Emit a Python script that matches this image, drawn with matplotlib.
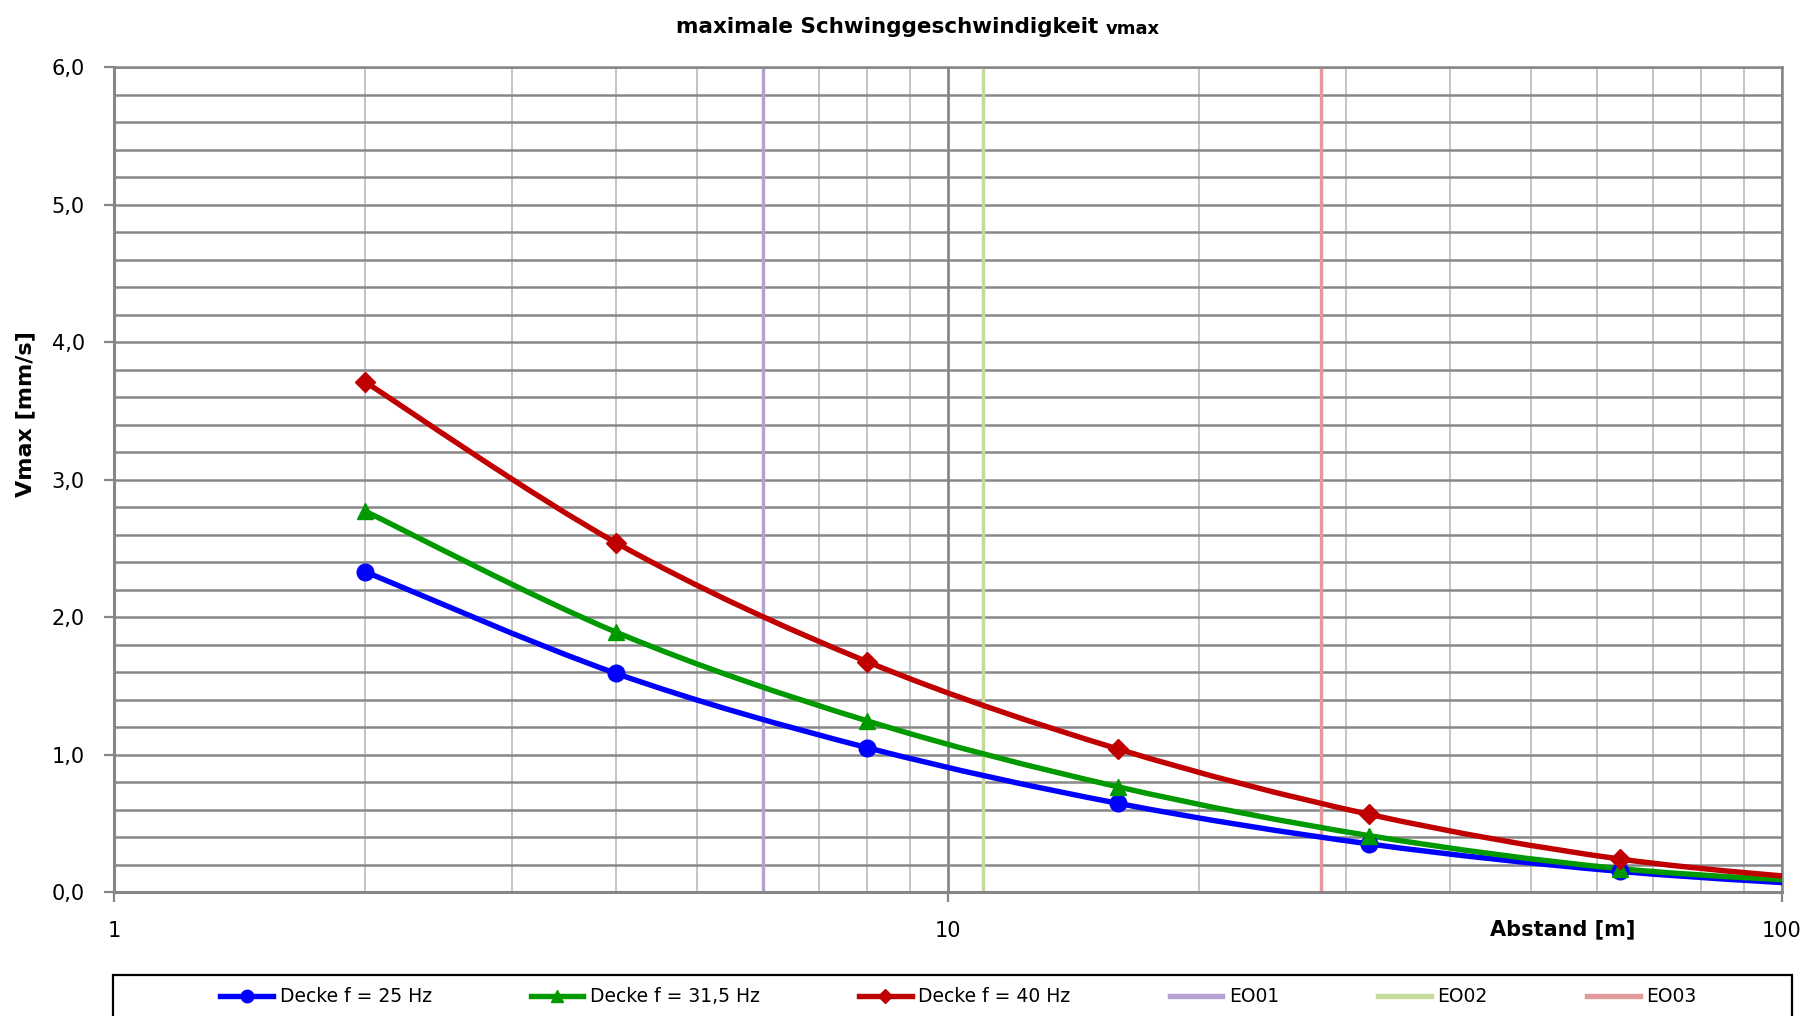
import numpy as np
import matplotlib
matplotlib.use('Agg')
import matplotlib.pyplot as plt
from matplotlib.path import Path
from matplotlib.patches import PathPatch, Rectangle
from matplotlib.lines import Line2D
from matplotlib.ticker import MultipleLocator, FixedLocator, NullFormatter

# data
distances = [2, 4, 8, 16, 32, 64, 128]
v_25 = [2.33, 1.59, 1.05, 0.645, 0.35, 0.15, 0.03]
v_315 = [2.77, 1.89, 1.245, 0.765, 0.41, 0.17, 0.055]
v_40 = [3.71, 2.54, 1.675, 1.04, 0.565, 0.24, 0.06]
series_labels = ['Decke f = 25 Hz', 'Decke f = 31,5 Hz', 'Decke f = 40 Hz']
eo_labels = ['EO01', 'EO02', 'EO03']
eo_positions = [6.0, 11.0, 28.0]
y_ticks = [0, 1, 2, 3, 4, 5, 6]
x_ticks = [1, 10, 100]

line_colors = ['#0000ff', '#009900', '#c00000']
markers = ['o', '^', 'D']
marker_sizes = [12, 12, 10]
eo_colors = ['#b3a2d2', '#c6da9c', '#e39a9c']

plt.rcParams['font.family'] = ['DejaVu Sans']


def smooth_path(xs, ys):
    # Excel-like smoothed line: cubic bezier in (log x, y) space
    u = np.log10(np.asarray(xs, float))
    v = np.asarray(ys, float)
    n = len(u)
    verts = [(xs[0], ys[0])]
    codes = [Path.MOVETO]
    for i in range(n - 1):
        u0, v0 = (u[i - 1], v[i - 1]) if i > 0 else (u[i], v[i])
        u3, v3 = (u[i + 2], v[i + 2]) if i + 2 < n else (u[i + 1], v[i + 1])
        c1 = (u[i] + (u[i + 1] - u0) / 6, v[i] + (v[i + 1] - v0) / 6)
        c2 = (u[i + 1] - (u3 - u[i]) / 6, v[i + 1] - (v3 - v[i]) / 6)
        verts += [(10 ** c1[0], c1[1]), (10 ** c2[0], c2[1]), (10 ** u[i + 1], v[i + 1])]
        codes += [Path.CURVE4] * 3
    return Path(verts, codes)


fig = plt.figure(figsize=(18.05, 10.16), dpi=100)
ax = fig.add_axes([0.0632, 0.122, 0.924, 0.812])

ax.set_xscale('log')
ax.set_xlim(1, 100)
ax.set_ylim(0, 6)

# grid
ax.yaxis.set_major_locator(FixedLocator(y_ticks))
ax.yaxis.set_minor_locator(MultipleLocator(0.2))
ax.xaxis.set_major_locator(FixedLocator(x_ticks))
ax.xaxis.set_minor_locator(FixedLocator([m * d for d in (1, 10) for m in range(2, 10)]))
ax.xaxis.set_minor_formatter(NullFormatter())
ax.grid(axis='y', which='both', color='#888888', lw=1.8)
ax.grid(axis='x', which='major', color='#828282', lw=1.9)
ax.grid(axis='x', which='minor', color='#c4c4c4', lw=1.4)
ax.set_axisbelow(True)

for s in ax.spines.values():
    s.set_color('#868686')
    s.set_linewidth(1.8)
ax.spines['left'].set_linewidth(2.2)
ax.spines['bottom'].set_linewidth(2.2)

ax.tick_params(axis='both', which='major', length=7, width=1.6, color='#868686',
               labelsize=15, pad=14)
ax.tick_params(axis='both', which='minor', length=0)
ax.set_yticklabels([f'{t:.1f}'.replace('.', ',') for t in y_ticks])
ax.set_xticklabels([str(t) for t in x_ticks])

# EO reference lines
for xpos, col in zip(eo_positions, eo_colors):
    ax.axvline(xpos, color=col, lw=2.5, zorder=2)

# series
all_series = [v_25, v_315, v_40]
for vals, col, mk, ms in zip(all_series, line_colors, markers, marker_sizes):
    ax.add_patch(PathPatch(smooth_path(distances, vals), fill=False, ec=col,
                           lw=3.9, zorder=3, capstyle='round', joinstyle='round'))
    ax.plot(distances, vals, ls='none', marker=mk, ms=ms, color=col, zorder=4)

# labels
fig.text(0.6125, 0.973, 'maximale Schwinggeschwindigkeit ', ha='right', va='center',
         fontsize=15.5, fontweight='bold')
fig.text(0.6125, 0.971, 'vmax', ha='left', va='center', fontsize=13, fontweight='bold')
fig.text(0.014, 0.592, 'Vmax [mm/s]', rotation=90, ha='center', va='center',
         fontsize=16, fontweight='bold')
fig.text(0.8655, 0.085, 'Abstand [m]', ha='center', va='center',
         fontsize=15, fontweight='bold')

# legend
handles = [Line2D([], [], color=c, lw=3.9, marker=m, ms=ms * 0.75)
           for c, m, ms in zip(line_colors, markers, marker_sizes)]
handles += [Line2D([], [], color=c, lw=3.9) for c in eo_colors]
fig.legend(handles, series_labels + eo_labels, loc='center',
           bbox_to_anchor=(0.531, 0.019), ncol=6, frameon=False, fontsize=13.5,
           handlelength=2.8, handletextpad=0.35, columnspacing=5.3)
fig.add_artist(Rectangle((0.0626, -0.05), 0.9302, 0.0904, transform=fig.transFigure,
                         fill=False, ec='black', lw=1.6))

fig.savefig('out.png', dpi=100)
